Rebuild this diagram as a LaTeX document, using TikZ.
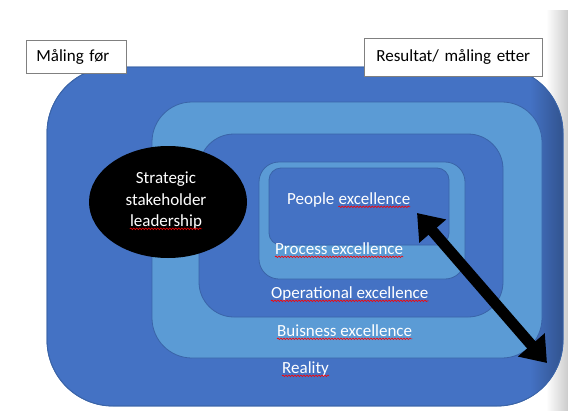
\documentclass[tikz,border=0pt]{standalone}
\usepackage{fontspec}
\setmainfont{Carlito}
\usetikzlibrary{arrows.meta,shapes.geometric,decorations.pathmorphing,positioning}

\definecolor{darkblue}{HTML}{4472C4}
\definecolor{lightblue}{HTML}{5B9BD5}
\definecolor{edgeblue}{HTML}{3A64A8}

\begin{document}
\begin{tikzpicture}[x=1pt, y=-1pt]

    \tikzstyle{layer} = [draw=edgeblue, line width=0.8pt]
    \tikzstyle{lbl}   = [anchor=base west, inner sep=0pt, text=white,
                         font=\fontsize{17}{20}\selectfont]
    \tikzstyle{squig} = [red, line width=0.6pt, decorate,
                         decoration={snake, amplitude=0.8pt, segment length=3pt}]
    \tikzstyle{tag}   = [rectangle, draw=gray, line width=0.8pt, fill=white,
                         anchor=north west, align=left,
                         font=\fontsize{17}{20}\selectfont]
    \tikzstyle{bigarrow} = [{Triangle[width=34pt,length=24pt]}-{Triangle[width=34pt,length=24pt]},
                            line width=11pt, black]

    \useasboundingbox (0,0) rectangle (568,410);
    \shade[left color=white, right color=black!20] (546,10) rectangle (568,410);

    % nested layers, outside in
    \draw[layer, fill=darkblue, rounded corners=66pt] (47,67) rectangle (563,406);
    \begin{scope}
        \clip[rounded corners=66pt] (47,67) rectangle (563,406);
        \shade[left color=darkblue, right color=darkblue!72!black] (530,60) rectangle (564,410);
    \end{scope}
    \draw[layer, rounded corners=66pt] (47,67) rectangle (563,406);
    \draw[layer, fill=lightblue, rounded corners=40pt] (152,102) rectangle (542,358);
    \draw[layer, fill=darkblue,  rounded corners=35pt] (199,134) rectangle (503,317);
    \draw[layer, fill=lightblue, rounded corners=20pt] (259,162) rectangle (465,279);
    \draw[layer, fill=darkblue,  rounded corners=12pt] (269,168) rectangle (449,245);

    \node[lbl] (people)  at (287,204) {People};
    \node[lbl] (peoplex) at ([xshift=3.8pt]people.base east) {excellence};
    \node[lbl] (process) at (275,254) {Process excellence};
    \node[lbl] (oper)    at (271,298) {Operational excellence};
    \node[lbl] (busi)    at (277,336) {Buisness excellence};
    \node[lbl] (reality) at (282,373) {Reality};

    \node[ellipse, fill=black, inner sep=0pt, minimum width=158pt,
          minimum height=112pt] (lead) at (168,202) {};
    \node[lbl, anchor=base] (lead1) at (166,183) {Strategic};
    \node[lbl, anchor=base] (lead2) at (166,205) {stakeholder};
    \node[lbl, anchor=base] (lead3) at (166,226) {leadership};

    % spell-check squiggles
    \foreach \word in {peoplex,process,oper,busi,reality,lead3}
        \draw[squig] ([yshift=-2.8pt]\word.base west) -- ([yshift=-2.8pt]\word.base east);

    \coordinate (inner) at (417,213);
    \coordinate (outer) at (547,363);
    \draw[bigarrow] (inner) -- (outer);

    \node[tag, minimum height=33pt, inner xsep=10pt, text width=80pt]
        (before) at (26,40) {Måling før};
    \node[tag, minimum height=38pt, inner xsep=12pt, text width=154pt]
        (after) at (364,38) {Resultat/ måling etter};

\end{tikzpicture}
\end{document}
